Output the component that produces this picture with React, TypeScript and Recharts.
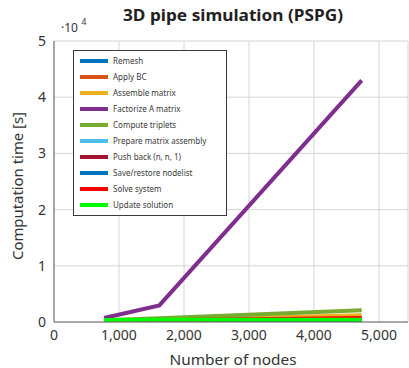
import React from 'react';
import { LineChart, Line, XAxis, YAxis, CartesianGrid, Legend } from 'recharts';

const FONT = '"Noto Sans", "DejaVu Sans", sans-serif';

// Data
const nodes = [770, 1620, 4734];
const remesh = [60, 110, 260];
const applyBC = [20, 40, 100];
const assembleMatrix = [200, 400, 1190];
const factorizeA = [700, 2950, 43000];
const computeTriplets = [300, 650, 2080];
const prepareAssembly = [50, 100, 300];
const pushBack = [40, 80, 250];
const saveRestore = [20, 40, 100];
const solveSystem = [150, 300, 710];
const updateSolution = [370, 390, 410];

const xTicks = [0, 1000, 2000, 3000, 4000, 5000];
const yTicks = [0, 10000, 20000, 30000, 40000, 50000];

const series = [
  { key: 'remesh', name: 'Remesh', color: '#0072BD', values: remesh },
  { key: 'applyBC', name: 'Apply BC', color: '#D95319', values: applyBC },
  { key: 'assemble', name: 'Assemble matrix', color: '#EDB120', values: assembleMatrix },
  { key: 'factorize', name: 'Factorize A matrix', color: '#7E2F8E', values: factorizeA },
  { key: 'triplets', name: 'Compute triplets', color: '#77AC30', values: computeTriplets },
  { key: 'prepare', name: 'Prepare matrix assembly', color: '#4DBEEE', values: prepareAssembly },
  { key: 'pushBack', name: 'Push back (n, n, 1)', color: '#A2142F', values: pushBack },
  { key: 'saveRestore', name: 'Save/restore nodelist', color: '#0072BD', values: saveRestore },
  { key: 'solve', name: 'Solve system', color: '#FF0000', values: solveSystem },
  { key: 'update', name: 'Update solution', color: '#00FF00', values: updateSolution },
];

const data = nodes.map((n, i) => {
  const row: Record<string, number> = { nodes: n };
  series.forEach((s) => {
    row[s.key] = s.values[i];
  });
  return row;
});

const renderLegend = () => (
  <div
    style={{
      position: 'relative',
      width: 152,
      height: 164,
      border: '1px solid #3a3a3a',
      background: '#fff',
      fontFamily: FONT,
      fontSize: 8,
      color: '#3a3a3a',
    }}
  >
    {series.map((s, i) => (
      <div
        key={s.key}
        style={{
          position: 'absolute',
          left: 6,
          top: 10 + 16 * i - 6,
          height: 12,
          display: 'flex',
          alignItems: 'center',
          whiteSpace: 'nowrap',
        }}
      >
        <span style={{ display: 'inline-block', width: 28, height: 4, background: s.color }} />
        <span style={{ marginLeft: 5, lineHeight: '12px' }}>{s.name}</span>
      </div>
    ))}
  </div>
);

export default function App() {
  return (
    <div style={{ position: 'absolute', left: 0, top: 0, width: 409, height: 368, background: '#fff' }}>
      <LineChart
        width={409}
        height={368}
        data={data}
        margin={{ top: 41, right: 1, bottom: 0, left: 0 }}
      >
        <CartesianGrid stroke="#d4d4d4" strokeWidth={1} />
        <XAxis
          dataKey="nodes"
          type="number"
          domain={[0, 5446]}
          ticks={xTicks}
          allowDataOverflow
          height={46}
          tickLine={false}
          axisLine={{ stroke: '#666' }}
          tick={{ fill: '#333', fontSize: 14, fontFamily: FONT }}
          tickFormatter={(v: number) => v.toLocaleString('en-US')}
          label={{
            content: () => (
              <text
                x={233}
                y={365}
                textAnchor="middle"
                fill="#333"
                fontSize={15}
                fontFamily={FONT}
                textLength={127}
                lengthAdjust="spacingAndGlyphs"
              >
                Number of nodes
              </text>
            ),
          }}
        />
        <YAxis
          type="number"
          domain={[0, 50000]}
          ticks={yTicks}
          allowDataOverflow
          width={54}
          tickLine={false}
          axisLine={{ stroke: '#666' }}
          tick={{ fill: '#333', fontSize: 14, fontFamily: FONT }}
          tickFormatter={(v: number) => String(v / 10000)}
          label={{
            content: () => (
              <text
                x={23}
                y={186}
                transform="rotate(-90 23 186)"
                textAnchor="middle"
                fill="#333"
                fontSize={15}
                fontFamily={FONT}
                textLength={148}
                lengthAdjust="spacingAndGlyphs"
              >
                Computation time [s]
              </text>
            ),
          }}
        />
        <Legend
          layout="vertical"
          align="center"
          verticalAlign="middle"
          content={renderLegend}
          wrapperStyle={{ position: 'absolute', left: 73, top: 50, width: 154, height: 166 }}
        />
        {series.map((s) => (
          <Line
            key={s.key}
            dataKey={s.key}
            name={s.name}
            stroke={s.color}
            strokeWidth={4}
            strokeLinecap="butt"
            strokeLinejoin="miter"
            dot={false}
            activeDot={false}
            isAnimationActive={false}
            type="linear"
          />
        ))}
      </LineChart>
      <svg
        width={409}
        height={60}
        style={{ position: 'absolute', left: 0, top: 0, pointerEvents: 'none' }}
      >
        <text
          x={233}
          y={21}
          textAnchor="middle"
          fontWeight="bold"
          fontSize={16.5}
          fill="#222"
          fontFamily={FONT}
          textLength={220}
          lengthAdjust="spacingAndGlyphs"
        >
          3D pipe simulation (PSPG)
        </text>
        <text x={61} y={32} fontSize={12} fill="#333" fontFamily={FONT}>
          ·10
        </text>
        <text x={81.5} y={24.5} fontSize={8.5} fill="#333" fontFamily={FONT}>
          4
        </text>
      </svg>
    </div>
  );
}
